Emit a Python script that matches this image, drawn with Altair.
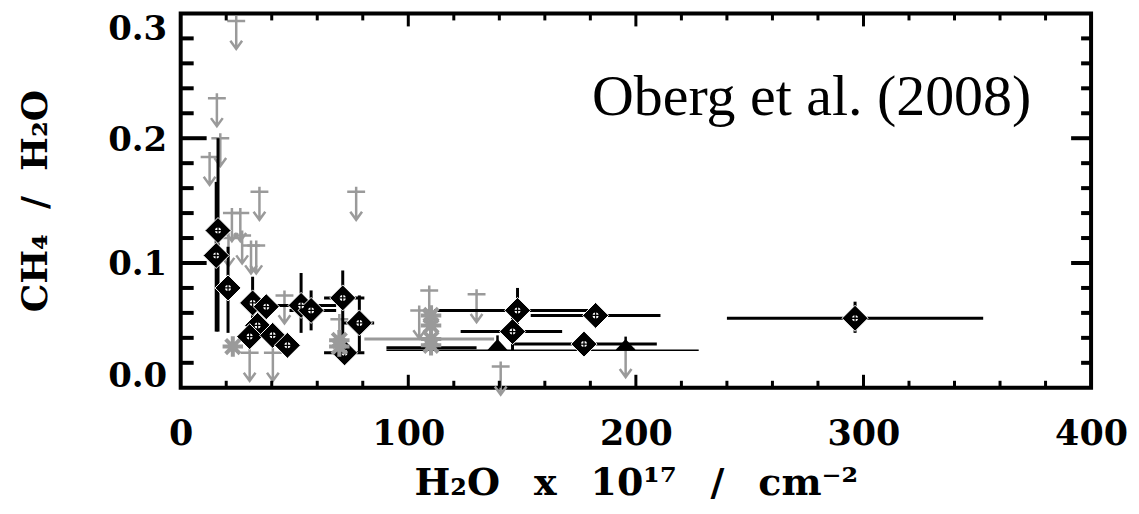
import altair as alt
import pandas as pd

# ---------------- data ----------------
# detections (black diamonds with error bars)
det_x   = [16.4, 15.6, 20.8, 31.6, 37.6, 33.8, 30.3, 40.4, 46.9, 52.9, 57.3, 71.2, 78.5, 72.0, 148.0, 145.8, 182.3, 177.2, 296.3]
det_y   = [0.126, 0.106, 0.080, 0.068, 0.065, 0.050, 0.041, 0.042, 0.034, 0.066, 0.062, 0.072, 0.052, 0.028, 0.062, 0.045, 0.058, 0.035, 0.0557]
det_xlo = [16.4, 15.6, 20.8, 31.6, 37.6, 33.8, 30.3, 40.4, 46.9, 36.8, 47.8, 63.0, 71.0, 63.0, 111.4, 123.0, 153.8, 146.5, 240.0]
det_xhi = [16.4, 15.6, 20.8, 31.6, 37.6, 33.8, 30.3, 40.4, 46.9, 68.3, 68.3, 80.7, 85.0, 80.7, 184.6, 167.6, 210.8, 209.2, 352.6]
det_ylo = [0.045, 0.045, 0.044, 0.044, 0.057, 0.050, 0.041, 0.042, 0.034, 0.044, 0.046, 0.029, 0.029, 0.028, 0.044, 0.030, 0.058, 0.035, 0.044]
det_yhi = [0.200, 0.165, 0.113, 0.089, 0.073, 0.050, 0.041, 0.042, 0.034, 0.092, 0.078, 0.094, 0.074, 0.028, 0.080, 0.060, 0.058, 0.035, 0.069]

# detections cut at the bottom (only upper half visible)
part_x   = [139.2, 195.5]
part_y   = [0.030, 0.030]
part_xlo = [90.4, 195.5]
part_xhi = [227.6, 195.5]
part_yhi = [0.042, 0.041]

# error bar whose marker is hidden under the grey points
hid_y   = [0.032]
hid_xlo = [90.4]
hid_xhi = [130.0]

# upper limits (grey)
ul_x = [24.4, 15.9, 17.4, 12.7, 34.6, 77.1, 22.5, 26.2, 21.0, 27.0, 30.9, 33.2, 45.6, 30.3, 40.5, 69.7, 104.8, 109.2, 130.0, 140.6, 195.5]
ul_y = [0.294, 0.232, 0.200, 0.185, 0.157, 0.157, 0.140, 0.140, 0.120, 0.122, 0.114, 0.114, 0.074, 0.028, 0.028, 0.055, 0.062, 0.078, 0.075, 0.017, 0.031]

# grey asterisks
ast_x   = [22.9, 69.7, 69.7, 110.0, 110.0, 110.0, 110.0]
ast_y   = [0.033, 0.038, 0.033, 0.058, 0.050, 0.039, 0.034]
ast_xlo = [20.0, 69.7, 69.7, 110.0, 110.0, 80.7, 110.0]
ast_xhi = [27.3, 69.7, 69.7, 110.0, 110.0, 137.7, 110.0]

# axes
x_labels = [0, 100, 200, 300, 400]
y_labels = [0.0, 0.1, 0.2, 0.3]
x_major = [100, 200, 300]
x_minor = [20, 40, 60, 80, 120, 140, 160, 180, 220, 240, 260, 280, 320, 340, 360, 380]
y_major = [0.1, 0.2]
y_minor = [0.02, 0.04, 0.06, 0.08, 0.12, 0.14, 0.16, 0.18, 0.22, 0.24, 0.26, 0.28]

annot = ["Oberg et al. (2008)"]
x_title = "H\u2082O\u00a0\u2009 x \u2009\u00a010\u00b9\u2077 \u2009\u00a0/\u00a0\u2009 cm\u207b\u00b2"
y_title = "CH\u2084\u00a0 /\u00a0 H\u2082O"

# ---------------- chart ----------------
W, H = 912, 375
GREY = "#9a9a9a"
FONT = "DejaVu Serif"

xs = alt.Scale(domain=[0, 400], nice=False, zero=False)
ys = alt.Scale(domain=[0, 0.3], nice=False, zero=False)

det = pd.DataFrame(dict(x=det_x, y=det_y, xlo=det_xlo, xhi=det_xhi, ylo=det_ylo, yhi=det_yhi))
part = pd.DataFrame(dict(x=part_x, y=part_y, xlo=part_xlo, xhi=part_xhi, yhi=part_yhi))
hid = pd.DataFrame(dict(y=hid_y, xlo=hid_xlo, xhi=hid_xhi))
ul = pd.DataFrame(dict(x=ul_x, y=ul_y))
ast = pd.DataFrame(dict(x=ast_x, y=ast_y, xlo=ast_xlo, xhi=ast_xhi))

XA = alt.Axis(values=x_labels, format="d", title=x_title,
              labelFont=FONT, labelFontWeight="bold", labelFontSize=35, labelColor="black",
              labelPadding=29, labelFlush=False, ticks=False, domain=False, grid=False,
              titleFont=FONT, titleFontWeight="bold", titleFontSize=38, titleColor="black",
              titleY=107, titleBaseline="alphabetic")
YA = alt.Axis(values=y_labels, format=".1f", title=y_title,
              labelFont=FONT, labelFontWeight="bold", labelFontSize=34, labelColor="black",
              labelPadding=14, labelFlush=False, labelBaseline="middle",
              labelOffset={"expr": "datum.value < 0.05 ? -11 : (datum.value > 0.25 ? 16 : 2)"},
              ticks=False, domain=False, grid=False,
              titleFont=FONT, titleFontWeight="bold", titleFontSize=36, titleColor="black",
              titleAngle=270, titleX=-134, titleY=H / 2, titleBaseline="alphabetic",
              titleAlign="center")


def X(f):
    return alt.X(f, scale=xs, axis=XA)


def Y(f):
    return alt.Y(f, scale=ys, axis=YA)


UL_PATH = "M -0.32 0 L 0.32 0 M 0 -0.18 L 0 1 M -0.21 0.71 L 0 1 L 0.21 0.71"
AST_PATH = "M -1 0 L 1 0 M 0 -1 L 0 1 M -0.7 -0.7 L 0.7 0.7 M -0.7 0.7 L 0.7 -0.7"
TRI_PATH = "M -1 0 L 0 -1.1 L 1 0 Z"
CROSS_PATH = "M -1 0 L 1 0 M 0 -1 L 0 1"

layers = []

# upper limits
layers.append(alt.Chart(ul).mark_point(shape=UL_PATH, size=3136, filled=False,
                                       stroke=GREY, strokeWidth=2.5, opacity=1).encode(
    x=X("x:Q"), y=Y("y:Q")))

# black error bars
layers.append(alt.Chart(det).mark_rule(color="black", strokeWidth=3).encode(
    x=X("xlo:Q"), x2="xhi:Q", y=Y("y:Q")))
layers.append(alt.Chart(det).mark_rule(color="black", strokeWidth=3).encode(
    x=X("x:Q"), y=Y("ylo:Q"), y2="yhi:Q"))
layers.append(alt.Chart(hid).mark_rule(color="black", strokeWidth=3).encode(
    x=X("xlo:Q"), x2="xhi:Q", y=Y("y:Q")))
layers.append(alt.Chart(part).mark_rule(color="black", strokeWidth=1.5).encode(
    x=X("xlo:Q"), x2="xhi:Q", y=Y("y:Q")))
layers.append(alt.Chart(part).mark_rule(color="black", strokeWidth=2.5).encode(
    x=X("x:Q"), y=Y("y:Q"), y2="yhi:Q"))

# diamonds
layers.append(alt.Chart(det).mark_point(shape="diamond", size=680, filled=True, fill="black",
                                        stroke="white", strokeWidth=1, opacity=1).encode(
    x=X("x:Q"), y=Y("y:Q")))
layers.append(alt.Chart(det).mark_point(shape="circle", size=36, filled=True, fill="white",
                                        opacity=1).encode(
    x=X("x:Q"), y=Y("y:Q")))
layers.append(alt.Chart(det).mark_point(shape=CROSS_PATH, size=49, filled=False, stroke="black",
                                        strokeWidth=1.3, opacity=1).encode(
    x=X("x:Q"), y=Y("y:Q")))
layers.append(alt.Chart(part).mark_point(shape=TRI_PATH, size=420, filled=True, fill="black",
                                         opacity=1).encode(
    x=X("x:Q"), y=Y("y:Q")))

# grey asterisks
layers.append(alt.Chart(ast).mark_rule(color=GREY, strokeWidth=3).encode(
    x=X("xlo:Q"), x2="xhi:Q", y=Y("y:Q")))
layers.append(alt.Chart(ast).mark_point(shape=AST_PATH, size=420, filled=False, stroke=GREY,
                                        strokeWidth=4, opacity=1).encode(
    x=X("x:Q"), y=Y("y:Q")))


# inward ticks
def yticks(vals, x0, x1, sw):
    return alt.Chart(pd.DataFrame(dict(v=vals))).mark_rule(color="black", strokeWidth=sw).encode(
        y=Y("v:Q"), x=alt.value(x0), x2=alt.value(x1))


def xticks(vals, y0, y1, sw):
    return alt.Chart(pd.DataFrame(dict(v=vals))).mark_rule(color="black", strokeWidth=sw).encode(
        x=X("v:Q"), y=alt.value(y0), y2=alt.value(y1))


layers += [
    yticks(y_major, 0, 26, 4), yticks(y_minor, 0, 13, 4),
    yticks(y_major, W, W - 20, 4), yticks(y_minor, W, W - 10, 4),
    xticks(x_major, H, H - 13, 3), xticks(x_minor, H, H - 7, 3),
    xticks(x_major, 0, 13, 3), xticks(x_minor, 0, 7, 3),
]

# annotation
layers.append(alt.Chart(pd.DataFrame(dict(t=annot))).mark_text(
    font="Liberation Serif", fontSize=58, align="left", baseline="alphabetic", color="black").encode(
    text="t:N", x=alt.value(412), y=alt.value(102)))

chart = alt.layer(*layers).properties(
    width=W, height=H,
    autosize=alt.AutoSizeParams(type="none"),
    padding={"left": 173, "top": 5, "right": 40, "bottom": 120},
).configure_view(stroke="black", strokeWidth=4)

chart.save("out.html", embed_options={"renderer": "svg", "actions": False})
